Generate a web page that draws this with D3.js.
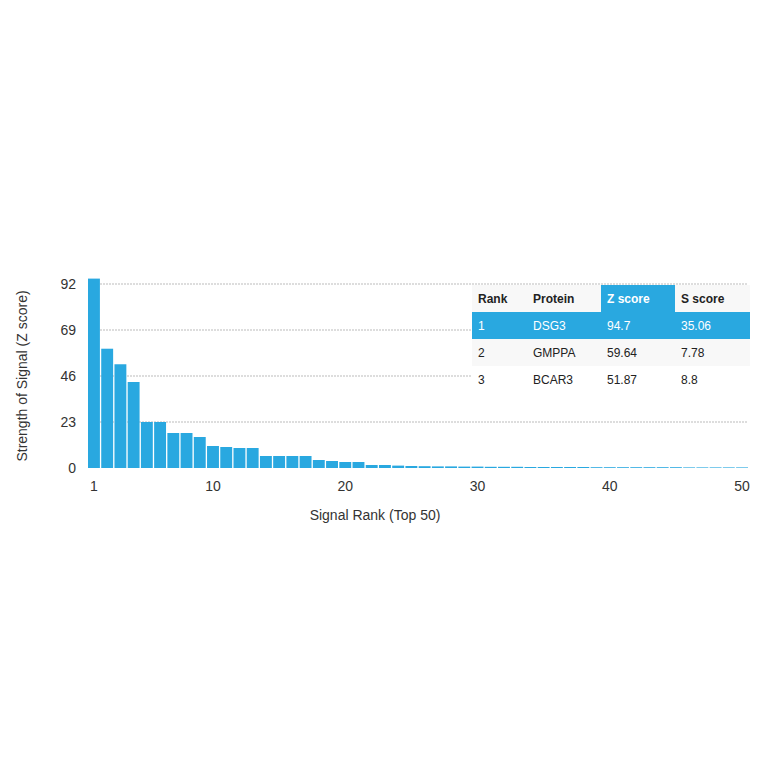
<!DOCTYPE html>
<html><head><meta charset="utf-8">
<script src="https://cdn.jsdelivr.net/npm/d3@7"></script>
<style>body{margin:0;background:#fff}text{font-family:"Helvetica Neue",Arial,"Liberation Sans",sans-serif}</style>
</head><body><svg id="c" width="764" height="764"></svg>
<script>
const ranks = d3.range(1, 51);
const values = [94.7,59.64,51.87,43,23,23,17.5,17.5,15.5,11,10.5,10,10,6,6,6,6,4,3.5,3,3,1.5,1.5,1.2,1,
 0.9,0.8,0.8,0.7,0.7,0.6,0.6,0.6,0.5,0.5,0.5,0.5,0.5,0.4,0.4,0.4,0.4,0.4,0.4,0.4,0.3,0.3,0.3,0.3,0.3];
const yTicks = [0,23,46,69,92];
const xTicks = [1,10,20,30,40,50];
const headers = ["Rank","Protein","Z score","S score"];
const rows = [["1","DSG3","94.7","35.06"],["2","GMPPA","59.64","7.78"],["3","BCAR3","51.87","8.8"]];
const blue = "#29a8e0";
const svg = d3.select("#c");
const x = d3.scaleBand().domain(ranks).range([88,748]).paddingInner(0.1);
const y = d3.scaleLinear().domain([0,92]).range([468,284]);
svg.append("g").selectAll("line").data(yTicks.slice(1)).join("line")
 .attr("x1",88).attr("x2",748).attr("y1",d=>y(d)).attr("y2",d=>y(d))
 .attr("stroke","#bbb").attr("stroke-width",1).attr("stroke-dasharray","2,1");
svg.append("g").selectAll("rect").data(values).join("rect")
 .attr("x",(d,i)=>x(ranks[i])).attr("width",x.bandwidth())
 .attr("y",d=>y(d)).attr("height",d=>468-y(d)).attr("fill",blue);
svg.append("g").selectAll("text").data(yTicks).join("text")
 .attr("x",76).attr("y",d=>y(d)+5).attr("text-anchor","end").attr("font-size",14).attr("fill","#333").text(d=>d);
svg.append("g").selectAll("text").data(xTicks).join("text")
 .attr("x",d=>x(d)+x.bandwidth()/2).attr("y",491).attr("text-anchor","middle").attr("font-size",14).attr("fill","#333").text(d=>d);
svg.append("text").attr("x",375).attr("y",520).attr("text-anchor","middle").attr("font-size",14).attr("fill","#333").text("Signal Rank (Top 50)");
svg.append("text").attr("transform","translate(27,376) rotate(-90)").attr("text-anchor","middle").attr("font-size",14).attr("fill","#333").text("Strength of Signal (Z score)");
// table
const colX = [472,527,601,675], tw = 278, rh = 27, ty = 285;
const t = svg.append("g");
t.append("rect").attr("x",472).attr("y",ty).attr("width",tw).attr("height",rh*4-1).attr("fill","#fff");
t.append("rect").attr("x",472).attr("y",ty).attr("width",tw).attr("height",rh).attr("fill","#f8f8f8");
t.append("rect").attr("x",601).attr("y",ty).attr("width",74).attr("height",rh).attr("fill",blue);
t.append("rect").attr("x",472).attr("y",ty+rh).attr("width",tw).attr("height",rh).attr("fill",blue);
t.append("rect").attr("x",472).attr("y",ty+2*rh).attr("width",tw).attr("height",rh).attr("fill","#f8f8f8");
headers.forEach((h,i)=>t.append("text").attr("x",colX[i]+6).attr("y",ty+18).attr("font-size",12).attr("font-weight","bold").attr("fill",i==2?"#fff":"#222").text(h));
rows.forEach((r,j)=>r.forEach((c,i)=>t.append("text").attr("x",colX[i]+6).attr("y",ty+rh*(j+1)+18).attr("font-size",12).attr("fill",j==0?"#fff":"#222").text(c)));
</script></body></html>
